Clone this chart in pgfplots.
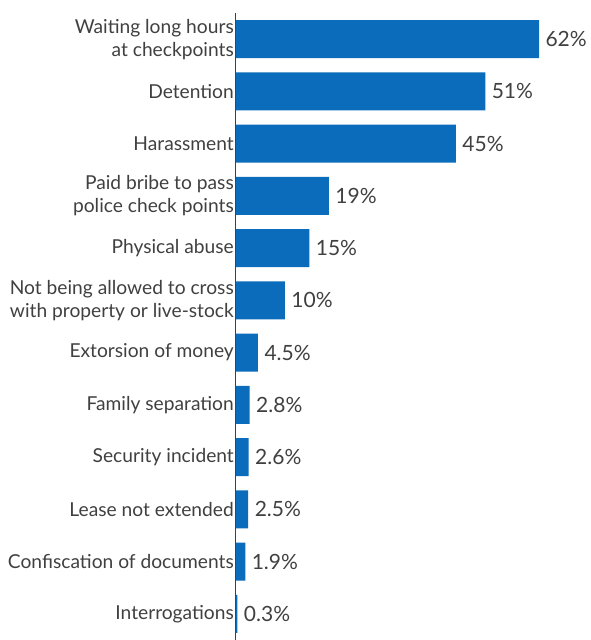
\documentclass[border=0pt]{standalone}
\usepackage{pgfplots}
\pgfplotsset{compat=1.18}
\usepackage{fontspec}
\setmainfont{Lato}
\definecolor{barblue}{HTML}{0A6CBA}
\definecolor{txt}{HTML}{404040}
\begin{document}
\begin{tikzpicture}
\path[use as bounding box] (0,0) rectangle (590pt,640pt);
\begin{axis}[
  at={(236pt,0pt)}, anchor=south west,
  scale only axis, width=317.7pt, height=627pt,
  xmin=0, xmax=65, ymin=-0.5, ymax=11.5, y dir=reverse,
  axis x line=none, axis y line*=left,
  y axis line style={draw=txt, line width=1pt, -},
  major tick length=0pt,
  ytick={0,...,11},
  yticklabels={{Waiting long hours\\at checkpoints},Detention,Harassment,{Paid bribe to pass\\police check points},Physical abuse,{Not being allowed to cross\\with property or live-stock},Extorsion of money,Family separation,Security incident,Lease not extended,Confiscation of documents,Interrogations},
  yticklabel style={align=right, font=\fontsize{19.2}{23}\selectfont, text=txt, inner xsep=2pt},
  /pgf/number format/assume math mode=true,
  xbar, bar width=38pt,
  nodes near coords={\pgfmathprintnumber{\pgfplotspointmeta}\%},
  point meta=x,
  nodes near coords style={font=\fontsize{21}{24}\selectfont, text=txt, anchor=west, xshift=3pt},
]
\addplot[fill=barblue, draw=none] coordinates {
(62,0) (51,1) (45,2) (19,3) (15,4) (10,5) (4.5,6) (2.8,7) (2.6,8) (2.5,9) (1.9,10) (0.3,11)};
\end{axis}
\end{tikzpicture}
\end{document}
